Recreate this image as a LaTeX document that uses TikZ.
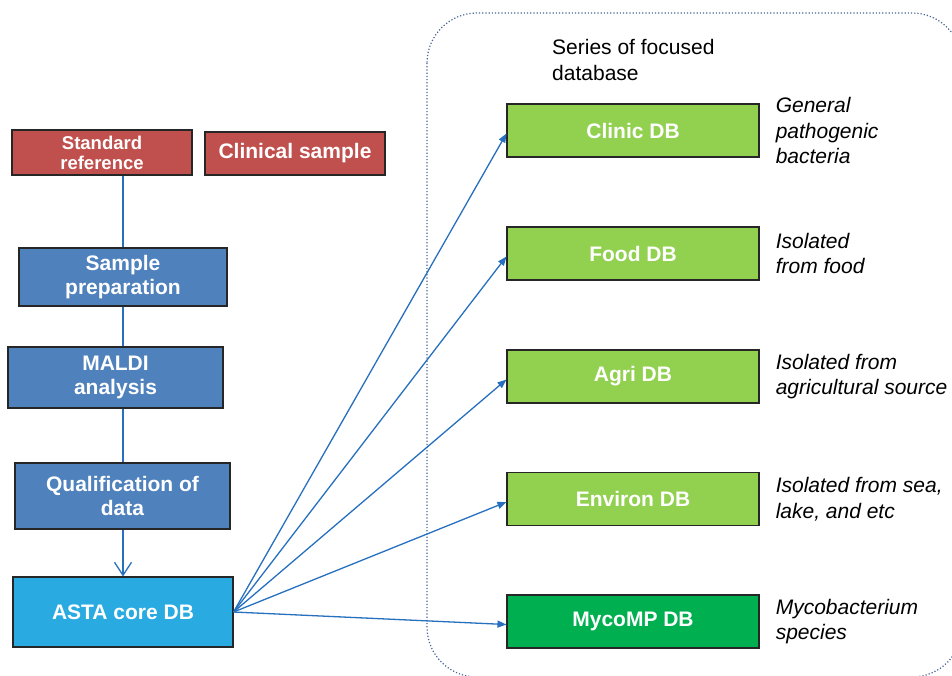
\documentclass[tikz,border=0pt]{standalone}
\usepackage{fontspec}
\setmainfont{Liberation Sans}
\usetikzlibrary{arrows.meta}
\definecolor{boxred}{HTML}{C0504D}
\definecolor{boxblue}{HTML}{4F81BD}
\definecolor{coreblue}{HTML}{29ABE2}
\definecolor{dbgreen}{HTML}{92D050}
\definecolor{mycogreen}{HTML}{00B050}
\definecolor{linkblue}{RGB}{38,112,190}
\definecolor{dotblue}{RGB}{70,100,150}
\begin{document}
\begin{tikzpicture}[x=1pt,y=-1pt,
	box/.style={draw=black!85,line width=1.1pt,text=white,inner sep=0pt,align=center,
		font=\fontsize{21}{24}\selectfont\bfseries},
	dbbox/.style={box,fill=dbgreen,minimum width=252pt,minimum height=53pt},
	note/.style={anchor=west,inner sep=0pt,align=left,font=\fontsize{21}{25.5}\selectfont\itshape},
	link/.style={draw=linkblue,line width=1.3pt}]
		\path[use as bounding box](0,0) rectangle (952,675);
		\begin{scope}
			\clip(0,0) rectangle (952,675);
			\draw[dotblue,line width=1.2pt,dash pattern=on 1.2pt off 2pt,rounded corners=50pt](427,13) rectangle (962,677);
		\end{scope}
		
		\node[box,fill=boxred,minimum width=180pt,minimum height=45pt,
			font=\fontsize{18.5}{20}\selectfont\bfseries](std) at (102,152.5) {Standard\\reference};
		\node[box,fill=boxred,minimum width=180pt,minimum height=43pt](clin) at (295,153.5) {Clinical sample};
		\node[box,fill=boxblue,minimum width=208pt,minimum height=58pt](prep) at (123,277) {Sample\\preparation};
		\node[box,fill=boxblue,minimum width=215pt,minimum height=61pt](maldi) at (115.5,377.5) {MALDI\\analysis};
		\node[box,fill=boxblue,minimum width=215pt,minimum height=66pt](qual) at (122.5,496) {Qualification of\\data};
		\node[box,fill=coreblue,minimum width=220pt,minimum height=70pt](asta) at (123,612) {ASTA core DB};
		
		\node[anchor=west,inner sep=0pt,align=left,font=\fontsize{21}{26}\selectfont](title) at (552,60) {Series of focused\\database};
		\node[dbbox](clinic) at (633,130.5) {Clinic DB};
		\node[dbbox](food) at (633,253.5) {Food DB};
		\node[dbbox](agri) at (633,376.5) {Agri DB};
		\node[dbbox](environ) at (633,499) {Environ DB};
		\node[dbbox,fill=mycogreen](myco) at (633,621.5) {MycoMP DB};
		
		\node[note](nclinic) at ([xshift=16pt]clinic.east) {General\\pathogenic\\bacteria};
		\node[note](nfood) at ([xshift=16pt]food.east) {Isolated\\from food};
		\node[note](nagri) at ([xshift=16pt]agri.east) {Isolated from\\agricultural source};
		\node[note](nenviron) at ([xshift=16pt]environ.east) {Isolated from sea,\\lake, and etc};
		\node[note](nmyco) at ([xshift=16pt]myco.east) {Mycobacterium\\species};
		
		\draw[link](std.south -| asta.north) -- (prep.north -| asta.north);
		\draw[link](prep.south -| asta.north) -- (maldi.north -| asta.north);
		\draw[link](maldi.south -| asta.north) -- (qual.north -| asta.north);
		\draw[link,-{Straight Barb[length=13pt,width=17pt]}](qual.south -| asta.north) -- (asta.north);
		\foreach \db in {clinic,food,agri,environ,myco}
			\draw[link,-{Triangle[length=9pt,width=7pt]}](asta.east) -- ([yshift=-3pt]\db.west);
	\end{tikzpicture}
\end{document}
